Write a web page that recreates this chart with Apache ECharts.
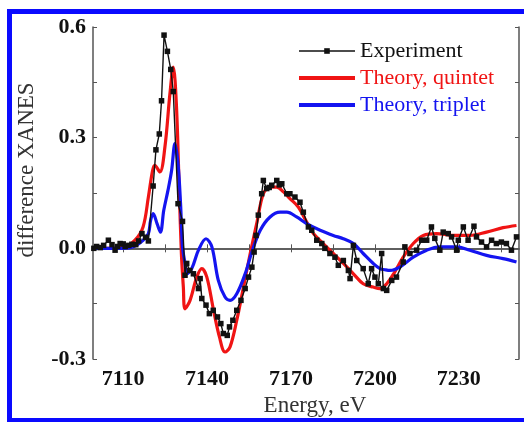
<!DOCTYPE html>
<html>
<head>
<meta charset="utf-8">
<script src="https://cdn.jsdelivr.net/npm/echarts@6/dist/echarts.min.js"></script>
<style>
  html, body { margin: 0; padding: 0; background: #fff; }
  #ChartDIV { width: 524px; height: 422px; }
</style>
</head>
<body>
<div id="ChartDIV"></div>
<script>
// experiment: energy (eV) and difference XANES
var expE = [7099.5, 7100.5, 7101.8, 7103, 7104.7, 7106, 7107.1, 7108, 7108.9, 7110, 7110.7, 7112, 7113.1, 7114.5, 7115.5, 7116.7, 7118, 7119,
    7120.7, 7121.7, 7122.9, 7123.7, 7124.6, 7125.8, 7127, 7127.9, 7129.6, 7131.2, 7132.1, 7132.7, 7133.8, 7135.1, 7136.9, 7137.5, 7138.1,
    7139.6, 7140.8, 7142.2, 7143.7, 7144.9, 7145.8, 7147.2, 7148, 7149.2, 7150.6, 7152.1, 7153.6, 7154.8, 7156, 7156.8, 7157.5, 7158.3,
    7159.5, 7160.1, 7161.3, 7162.2, 7163.1, 7164.9, 7165.8, 7166.7, 7168.5, 7169.6, 7171.4, 7173.2, 7174.4, 7176.2, 7177.4, 7179.2,
    7181, 7182.1, 7183.9, 7185.7, 7186.9, 7188.7, 7190.5, 7191.1, 7192.3, 7193.5, 7195.8, 7197.6, 7198.8, 7200, 7201.2, 7202.4, 7203,
    7204.2, 7206, 7207.7, 7210.1, 7210.7, 7212.5, 7214.9, 7216.7, 7218.5, 7220.2, 7221.4, 7223.2, 7224.4, 7226.2, 7227.4, 7229.2,
    7229.8, 7231.6, 7233.3, 7235.4, 7236.3, 7238.1, 7239.9, 7241.7, 7243.4, 7245.2, 7247, 7248.8, 7250.6];
var expV = [0.0, 0.005, 0.002, 0.008, 0.022, 0.01, -0.005, 0.005, 0.013, 0.012, 0.005, 0.008, 0.011, 0.01, 0.02, 0.04, 0.03, 0.02,
    0.169, 0.267, 0.31, 0.40, 0.578, 0.534, 0.485, 0.425, 0.121, 0.073, -0.073, -0.041, -0.06, -0.069, -0.109, -0.082, -0.136,
    -0.154, -0.177, -0.168, -0.186, -0.204, -0.231, -0.236, -0.213, -0.195, -0.168, -0.141, -0.109, -0.078, -0.051, -0.010, 0.035, 0.09,
    0.148, 0.184, 0.162, 0.165, 0.171, 0.184, 0.172, 0.175, 0.148, 0.148, 0.139, 0.125, 0.098, 0.058, 0.049, 0.022,
    0.013, 0.0, -0.014, -0.024, -0.046, -0.033, -0.060, -0.082, 0.008, -0.033, -0.055, -0.096, -0.055, -0.078, -0.096, -0.014, -0.109,
    -0.114, -0.087, -0.078, -0.037, 0.004, -0.014, -0.005, 0.022, 0.022, 0.058, 0.027, -0.005, 0.044, 0.040, 0.031, -0.005,
    0.022, 0.058, 0.022, 0.060, 0.031, 0.017, 0.004, 0.022, 0.013, 0.017, 0.013, -0.005, 0.031];

// theory, quintet
var quinE = [7099, 7105, 7110, 7114.2, 7117.1, 7119, 7120.5, 7121.3, 7123.1, 7124.9, 7126.7, 7127.9, 7129, 7130, 7130.8, 7131.5, 7132.1,
    7133.9, 7136.3, 7138.1, 7139.9, 7142.3, 7144.4, 7146.4, 7148.2, 7150.6, 7153, 7155.4, 7157.8, 7160.1, 7162.5, 7164.9, 7167.3,
    7169.6, 7172.6, 7175.6, 7178, 7181.5, 7185.1, 7188.7, 7192.3, 7195.8, 7199.4, 7201.8, 7204.2, 7207, 7210.1, 7213.7, 7217.3, 7222,
    7228, 7233.9, 7239.9, 7245.8, 7250.6];
var quinV = [0.0, 0.0, 0.002, 0.022, 0.058, 0.139, 0.211, 0.225, 0.207, 0.274, 0.419, 0.491, 0.392, 0.166, -0.014, -0.105, -0.164,
    -0.141, -0.078, -0.055, -0.078, -0.168, -0.24, -0.281, -0.267, -0.195, -0.105, -0.014, 0.07, 0.148, 0.166, 0.166, 0.153,
    0.135, 0.112, 0.071, 0.040, 0.013, -0.014, -0.041, -0.069, -0.096, -0.105, -0.109, -0.096, -0.065, -0.024, 0.013, 0.035, 0.040,
    0.035, 0.035, 0.044, 0.056, 0.062];

// theory, triplet
var tripE = [7099, 7105, 7110, 7113.6, 7117.1, 7119, 7119.8, 7120.7, 7122.1, 7123.3, 7124.5, 7126, 7127.3, 7128.5, 7129.6, 7130.5, 7131.2,
    7132.1, 7132.7, 7134.5, 7136.9, 7139.6, 7141.7, 7144, 7146.4, 7148.2, 7150.6, 7153.6, 7156, 7159, 7162.5, 7166.1, 7168.5, 7172,
    7175.6, 7180.4, 7185.1, 7188.7, 7192.3, 7195.8, 7199.4, 7201.8, 7203.5, 7205.4, 7208.9, 7213.7, 7218.5, 7223.2, 7229.2, 7233.9,
    7239.9, 7245.8, 7250.6];
var tripV = [0.0, 0.0, 0.0, 0.004, 0.022, 0.04, 0.076, 0.094, 0.067, 0.044, 0.103, 0.157, 0.211, 0.284, 0.229, 0.121, 0.004,
    -0.041, -0.069, -0.055, -0.005, 0.026, 0.004, -0.087, -0.132, -0.141, -0.123, -0.069, -0.01, 0.049, 0.085, 0.098, 0.098, 0.085,
    0.067, 0.049, 0.035, 0.026, 0.013, -0.014, -0.041, -0.055, -0.058, -0.060, -0.051, -0.024, -0.005, 0.004, 0.004, -0.005,
    -0.019, -0.028, -0.037];

var xLabels = [7110, 7140, 7170, 7200, 7230];
var xTicks = [7110, 7125, 7140, 7155, 7170, 7185, 7200, 7215, 7230, 7245];

function pairs(xs, ys) {
    var res = [];
    for (var i = 0; i < xs.length; i++) {
        res.push([xs[i], ys[i]]);
    }
    return res;
}

var myChart = echarts.init(document.getElementById('ChartDIV'));
var serif = '"Liberation Serif", "DejaVu Serif", serif';
var axisColor = '#555';
var red = '#f01414';
var blue = '#1414f0';

var option = {
    animation: false,
    grid: { left: 93, top: 27, right: 5, bottom: 63 },
    legend: {
        orient: 'vertical',
        left: 292,
        top: 35,
        itemWidth: 56,
        itemHeight: 7,
        itemGap: 5,
        textStyle: { fontFamily: serif, fontSize: 22 },
        data: [
            { name: 'Experiment', lineStyle: { width: 1.6 }, textStyle: { color: '#111' } },
            { name: 'Theory, quintet', itemStyle: { opacity: 0 }, lineStyle: { width: 4 }, textStyle: { color: red } },
            { name: 'Theory, triplet', itemStyle: { opacity: 0 }, lineStyle: { width: 4 }, textStyle: { color: blue } }
        ]
    },
    xAxis: [{
        type: 'value',
        min: 7099.2,
        max: 7251.5,
        axisLine: { lineStyle: { color: axisColor, width: 1.5 } },
        axisTick: { inside: true, length: 4, customValues: xTicks, lineStyle: { color: axisColor } },
        axisLabel: {
            customValues: xLabels, fontFamily: serif, fontWeight: 'bold', fontSize: 22, color: '#111', margin: 9,
            formatter: function (v) { return String(v); }
        },
        splitLine: { show: false }
    }, {
        type: 'value',
        position: 'top',
        min: 7099.2,
        max: 7251.5,
        axisLine: { show: true, lineStyle: { color: axisColor, width: 1.5 } },
        axisTick: { inside: true, length: 4, customValues: xTicks, lineStyle: { color: axisColor } },
        axisLabel: { show: false },
        splitLine: { show: false }
    }],
    yAxis: [{
        type: 'value',
        min: -0.3,
        max: 0.6,
        interval: 0.3,
        axisLine: { show: true, lineStyle: { color: axisColor, width: 1.5 } },
        axisTick: { show: true, inside: true, length: 4, lineStyle: { color: axisColor } },
        minorTick: { show: true, splitNumber: 2, length: 4, lineStyle: { color: axisColor } },
        axisLabel: {
            fontFamily: serif, fontWeight: 'bold', fontSize: 22, color: '#111', margin: 7,
            formatter: function (v) { return v.toFixed(1); }
        },
        splitLine: { show: false }
    }, {
        type: 'value',
        position: 'right',
        min: -0.3,
        max: 0.6,
        interval: 0.3,
        axisLine: { show: true, lineStyle: { color: axisColor, width: 1.5 } },
        axisTick: { show: true, inside: true, length: 4, lineStyle: { color: axisColor } },
        minorTick: { show: true, splitNumber: 2, length: 4, lineStyle: { color: axisColor } },
        axisLabel: { show: false },
        splitLine: { show: false }
    }],
    series: [
        {
            name: 'Theory, quintet',
            type: 'line',
            smooth: 0.35,
            showSymbol: false,
            symbol: 'none',
            lineStyle: { color: red, width: 3.2 },
            itemStyle: { color: red },
            data: pairs(quinE, quinV)
        },
        {
            name: 'Theory, triplet',
            type: 'line',
            smooth: 0.35,
            showSymbol: false,
            symbol: 'none',
            lineStyle: { color: blue, width: 3.2 },
            itemStyle: { color: blue },
            data: pairs(tripE, tripV)
        },
        {
            name: 'Experiment',
            type: 'line',
            symbol: 'rect',
            symbolSize: 5.5,
            lineStyle: { color: '#111', width: 1.4 },
            itemStyle: { color: '#111' },
            data: pairs(expE, expV)
        }
    ],
    graphic: [{
        type: 'rect',
        silent: true,
        shape: { x: 9.5, y: 11.5, width: 540, height: 409 },
        style: { fill: 'none', stroke: '#0a0aff', lineWidth: 5 }
    }, {
        type: 'text',
        silent: true,
        x: 27,
        y: 170,
        rotation: Math.PI / 2,
        style: { text: 'difference XANES', font: '23px ' + serif, fill: '#333', align: 'center', verticalAlign: 'middle' }
    }, {
        type: 'text',
        silent: true,
        x: 315,
        y: 406,
        style: { text: 'Energy, eV', font: '23px ' + serif, fill: '#333', align: 'center', verticalAlign: 'middle' }
    }]
};

myChart.setOption(option);

//-- 圖表自適應
window.addEventListener('resize', function () {
    myChart.resize();
});
</script>
</body>
</html>
